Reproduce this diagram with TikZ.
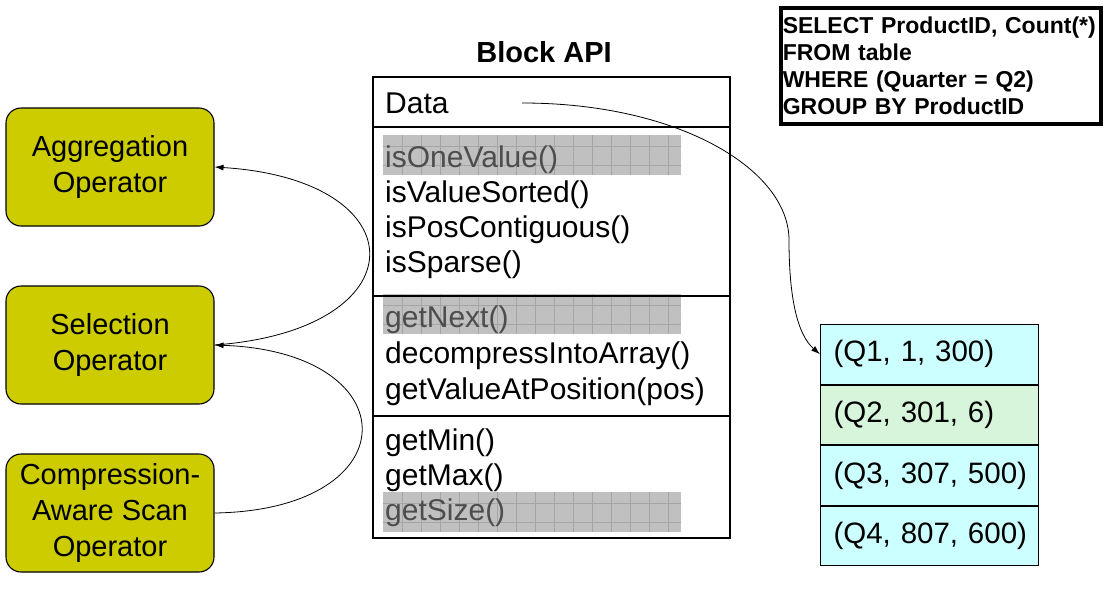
\documentclass[tikz,border=0pt]{standalone}
\usepackage{fontspec}
\setmainfont{Liberation Sans}
\usetikzlibrary{positioning,arrows.meta}
\definecolor{opyellow}{RGB}{204,204,0}
\definecolor{rowcyan}{RGB}{204,255,255}
\definecolor{rowgreen}{RGB}{214,245,218}
\definecolor{hlgrey}{RGB}{192,192,192}
\definecolor{hlgrid}{RGB}{165,165,165}
\definecolor{hltext}{RGB}{77,77,77}

\begin{document}
\begin{tikzpicture}[x=1pt,y=-1pt,
  opbox/.style={draw,line width=1.1pt,rounded corners=15pt,fill=opyellow,minimum width=208pt,minimum height=118pt,align=center,font=\fontsize{29}{36}\selectfont},
  apiline/.style={anchor=base west,inner sep=0pt,font=\fontsize{30}{36}\selectfont},
  slowline/.style={apiline,text=hltext},
  cell/.style={draw,line width=1.1pt,fill=rowcyan,minimum width=218pt,minimum height=59.5pt,text width=192pt,inner xsep=13pt,align=left,font=\fontsize{29.5}{36}\selectfont},
  conn/.style={line width=0.8pt,-{Latex[length=9pt,width=6pt]}}]
  \useasboundingbox (0,0) rectangle (1106,592);
  % operators
  \node[opbox] (agg) at (110,167) {Aggregation\\Operator};
  \node[opbox] (sel) at (110,345) {Selection\\Operator};
  \node[opbox] (comp) at (110,513) {Compression-\\Aware Scan\\Operator};
  \draw[conn] (sel.east) .. controls (420,330) and (420,180) .. (agg.east);
  \draw[conn] (comp.east) .. controls (410,510) and (410,352) .. (sel.east);
  % block api
  \node[font=\bfseries\fontsize{29}{35}\selectfont] (title) at (544,52) {Block API};
  \foreach \ya in {135,294,492} {
    \fill[hlgrey] (383,\ya) rectangle (681,\ya+40);
    \foreach \gx in {402,421,...,668} \draw[hlgrid,line width=0.4pt] (\gx,\ya) -- (\gx,\ya+40);
    \draw[hlgrid,line width=0.4pt] (383,\ya+11) -- (681,\ya+11) (383,\ya+30) -- (681,\ya+30);
  }
  \draw[line width=1.1pt] (373,77) rectangle (730,538);
  \foreach \yy in {127,296,416} \draw[line width=1.1pt] (373,\yy) -- (730,\yy);
  \node[apiline] (data) at (385,113) {Data};
  \node[slowline] (onevalue) at (385,167) {isOneValue()};
  \node[apiline] (sorted) at (385,202) {isValueSorted()};
  \node[apiline] (contig) at (385,237) {isPosContiguous()};
  \node[apiline] (sparse) at (385,272) {isSparse()};
  \node[slowline] (next) at (385,327) {getNext()};
  \node[apiline] (decomp) at (385,363) {decompressIntoArray()};
  \node[apiline] (valat) at (385,399) {getValueAtPosition(pos)};
  \node[apiline] (min) at (385,450) {getMin()};
  \node[apiline] (max) at (385,485) {getMax()};
  \node[slowline] (size) at (385,520) {getSize()};
  % query and column
  \node[draw,line width=3.5pt,anchor=north west,text width=316pt,inner xsep=2pt,minimum height=116pt,align=left,font=\bfseries\fontsize{23}{27.3}\selectfont] (query) at (779,6) {\mbox{SELECT ProductID, Count(*)}\\FROM table\\WHERE (Quarter = Q2)\\GROUP BY ProductID};
  \node[cell,anchor=north west] (q1) at (820,324) {\mbox{(Q1, 1, 300)}};
  \node[cell,fill=rowgreen,below=0pt of q1] (q2) {\mbox{(Q2, 301, 6)}};
  \node[cell,below=0pt of q2] (q3) {\mbox{(Q3, 307, 500)}};
  \node[cell,below=0pt of q3] (q4) {\mbox{(Q4, 807, 600)}};
  \coordinate (datatail) at (522,103);
  \draw[conn] (datatail) .. controls (680,103) and (789,170) .. (789,240) .. controls (789,300) and (798,335) .. (q1.west);
\end{tikzpicture}
\end{document}
